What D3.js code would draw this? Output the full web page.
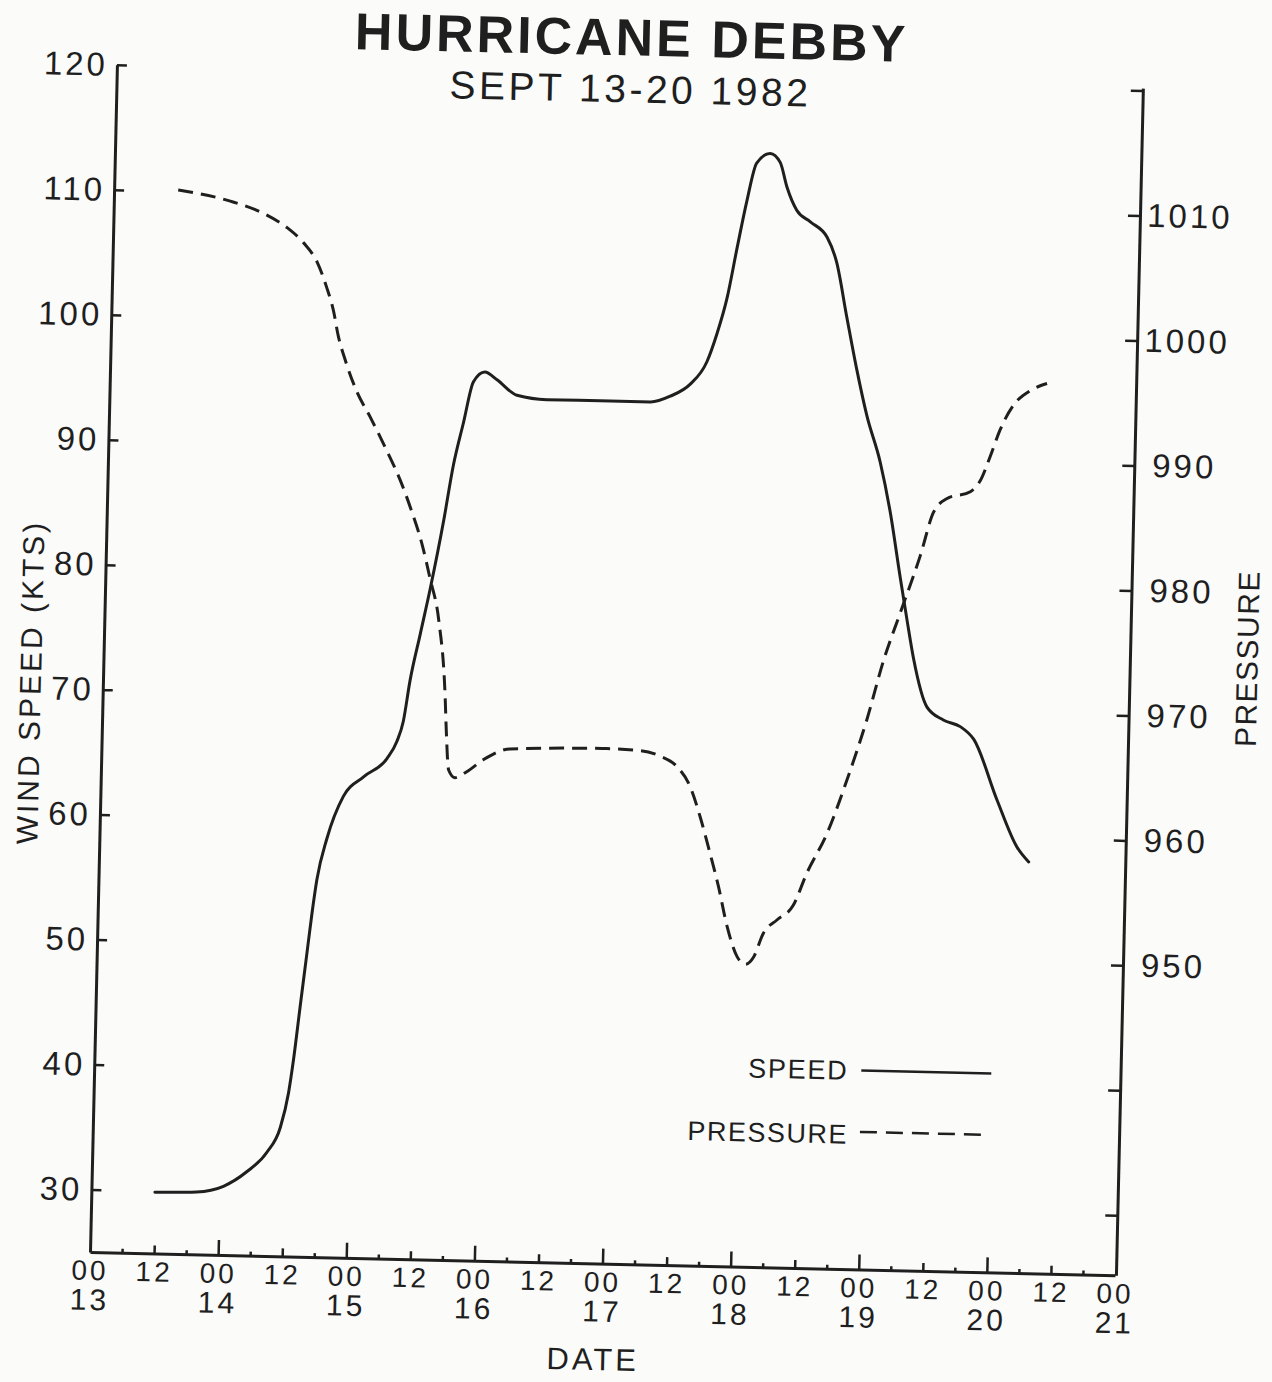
<!DOCTYPE html>
<html>
<head>
<meta charset="utf-8">
<script src="https://cdn.jsdelivr.net/npm/d3@7"></script>
<style>
  html, body { margin: 0; padding: 0; background: #fbfbfa; }
  svg { display: block; }
</style>
</head>
<body>
<div id="chart"></div>
<script>
// hours after 00Z Sept 13 and wind speed (kts)
const speedHours = [11.9, 19.7, 24.7, 29.0, 32.7, 35.1, 36.5, 37.3, 38.3, 39.3, 40.1, 40.9, 42.6, 45.5, 49.2, 53.5, 55.3, 56.4, 57.5, 59.2, 60.9, 63.1, 64.7, 66.4, 68.1, 70.2, 72.5, 76.3, 81.9, 93.8, 101.3, 105.0, 108.7, 111.7, 113.5, 115.2, 116.9, 118.5, 120.2, 122.7, 124.6, 126.0, 127.9, 130.5, 133.7, 135.6, 137.7, 139.8, 141.9, 144.6, 146.7, 148.8, 150.3, 151.7, 154.4, 157.5, 160.7, 163.3, 167.9, 171.8, 174.1];
const speedKts = [29.9, 30.0, 30.5, 31.7, 33.3, 35.3, 38.1, 40.8, 45.0, 49.1, 52.4, 55.2, 58.5, 61.9, 63.5, 65.0, 66.4, 68.0, 71.3, 75.0, 78.7, 84.1, 88.6, 92.0, 95.3, 96.1, 95.5, 94.3, 94.0, 94.0, 94.0, 94.5, 95.5, 97.3, 99.6, 102.4, 106.5, 110.2, 113.3, 114.1, 113.4, 111.4, 109.6, 108.7, 107.5, 105.5, 101.2, 97.0, 93.3, 89.6, 85.6, 80.5, 77.0, 73.9, 70.1, 69.1, 68.6, 67.6, 62.8, 59.1, 57.9];

// hours after 00Z Sept 13 and central pressure (mb)
const pressureHours = [12.0, 21.8, 28.0, 32.5, 35.7, 38.3, 40.2, 41.6, 42.6, 44.0, 46.3, 48.9, 52.2, 54.8, 57.1, 59.1, 60.8, 62.6, 64.1, 64.5, 65.1, 66.3, 68.5, 71.6, 76.5, 94.6, 100.9, 104.6, 107.8, 110.4, 112.4, 114.4, 116.1, 117.9, 119.9, 121.5, 123.0, 124.7, 127.2, 130.2, 132.6, 136.2, 139.7, 143.2, 146.1, 149.0, 152.5, 154.8, 157.2, 161.6, 163.4, 165.2, 166.9, 169.3, 172.4, 175.5];
const pressureMb = [1010.3, 1009.5, 1008.6, 1007.5, 1006.3, 1004.8, 1002.8, 1000.9, 998.9, 997.0, 994.5, 992.5, 989.8, 987.5, 985.0, 982.5, 979.7, 976.4, 970.5, 967.5, 964.4, 963.8, 964.3, 965.3, 966.2, 966.4, 966.3, 965.9, 965.1, 963.5, 961.1, 958.2, 955.6, 952.4, 950.0, 949.4, 950.0, 951.9, 953.0, 954.2, 956.8, 960.0, 964.3, 969.2, 974.0, 977.8, 982.4, 985.9, 987.0, 987.6, 988.5, 990.5, 992.6, 994.6, 995.8, 996.4];

const windTicks = [30, 40, 50, 60, 70, 80, 90, 100, 110, 120];
const pressureTicks = [930, 940, 950, 960, 970, 980, 990, 1000, 1010, 1020];
const pressureLabelled = [950, 960, 970, 980, 990, 1000, 1010];
const dayLabels = ["13", "14", "15", "16", "17", "18", "19", "20", "21"];

const ink = "#1f1f1f";
const font = "'Liberation Sans', Arial, Helvetica, sans-serif";

const width = 1272, height = 1382;
const plotW = 1025.2, plotH = 1187.5;

const svg = d3.select("#chart")
    .append("svg")
    .attr("width", width)
    .attr("height", height)
    .style("font-family", font);

svg.append("rect").attr("width", width).attr("height", height).attr("fill", "#fbfbfa");

// the original sheet sits slightly turned on the scanner
const g = svg.append("g")
    .attr("transform", `translate(90,1252) rotate(1.3) translate(0,${-plotH})`);

const x = d3.scaleLinear().domain([0, 192]).range([0, plotW]);
const yWind = d3.scaleLinear().domain([25, 120]).range([plotH, 0]);
const yPres = d3.scaleLinear().domain([925.2, 1020.2]).range([plotH, 0]);

function styleAxis(sel, size, spacing) {
    sel.attr("font-family", font).attr("font-size", size);
    sel.select(".domain").attr("stroke", ink).attr("stroke-width", 3);
    sel.selectAll(".tick line").attr("stroke", ink).attr("stroke-width", 2.5);
    sel.selectAll(".tick text").attr("fill", ink).style("letter-spacing", spacing + "px");
}

// left axis, ticks turned inward
const leftAxis = g.append("g")
    .call(d3.axisLeft(yWind).tickValues(windTicks).tickSizeInner(-10).tickSizeOuter(0).tickPadding(9));
styleAxis(leftAxis, 33, 3);

// right axis
const rightAxis = g.append("g")
    .attr("transform", `translate(${plotW + 1},0)`)
    .call(d3.axisRight(yPres).tickValues(pressureTicks).tickSizeInner(-12).tickSizeOuter(0).tickPadding(50)
        .tickFormat(d => pressureLabelled.includes(d) ? d : ""));
styleAxis(rightAxis, 33, 3);
rightAxis.selectAll(".tick text").attr("text-anchor", "middle");

// bottom axis: tall ticks at 00, medium at 12, tiny at 06/18
const bottomAxis = g.append("g")
    .attr("transform", `translate(0,${plotH})`)
    .call(d3.axisBottom(x).tickValues(d3.range(0, 193, 6)).tickSizeInner(-15).tickSizeOuter(0)
        .tickFormat(h => h % 24 === 0 ? "00" : h % 12 === 0 ? "12" : ""));
styleAxis(bottomAxis, 28, 3);
bottomAxis.selectAll(".tick line")
    .attr("y2", h => (h === 0 || h === 192) ? 0 : h % 24 === 0 ? -15 : h % 12 === 0 ? -8 : -4);
bottomAxis.selectAll(".tick text").attr("y", 28).attr("dy", null);
bottomAxis.selectAll(".tick")
    .filter(h => h % 24 === 0)
    .append("text")
    .attr("y", 58)
    .attr("fill", ink)
    .attr("font-size", 30)
    .style("letter-spacing", "3px")
    .attr("text-anchor", "middle")
    .text(h => dayLabels[h / 24]);

// series
const speedLine = d3.line()
    .x((d, i) => x(speedHours[i]))
    .y(d => yWind(d))
    .curve(d3.curveMonotoneX);

const pressureLine = d3.line()
    .x((d, i) => x(pressureHours[i]))
    .y(d => yPres(d))
    .curve(d3.curveMonotoneX);

g.append("path")
    .datum(speedKts)
    .attr("d", speedLine)
    .attr("fill", "none")
    .attr("stroke", ink)
    .attr("stroke-width", 3)
    .attr("stroke-linecap", "round");

g.append("path")
    .datum(pressureMb)
    .attr("d", pressureLine)
    .attr("fill", "none")
    .attr("stroke", ink)
    .attr("stroke-width", 3)
    .attr("stroke-dasharray", "15,8");

// axis titles
g.append("text")
    .attr("transform", "translate(-62,619) rotate(-90)")
    .attr("text-anchor", "middle")
    .attr("font-size", 30)
    .style("letter-spacing", "3px")
    .attr("fill", ink)
    .text("WIND SPEED (KTS)");

g.append("text")
    .attr("transform", "translate(1154,568) rotate(-90)")
    .attr("text-anchor", "middle")
    .attr("font-size", 30)
    .style("letter-spacing", "1.5px")
    .attr("fill", ink)
    .text("PRESSURE");

g.append("text")
    .attr("x", 505)
    .attr("y", 1294)
    .attr("text-anchor", "middle")
    .attr("font-size", 31)
    .style("letter-spacing", "3px")
    .attr("fill", ink)
    .text("DATE");

// title
g.append("text")
    .attr("x", 514)
    .attr("y", -21)
    .attr("text-anchor", "middle")
    .attr("font-size", 52)
    .attr("font-weight", "bold")
    .style("letter-spacing", "3px")
    .attr("fill", ink)
    .text("HURRICANE DEBBY");

g.append("text")
    .attr("x", 514)
    .attr("y", 26)
    .attr("text-anchor", "middle")
    .attr("font-size", 39)
    .style("letter-spacing", "3.5px")
    .attr("fill", ink)
    .text("SEPT 13-20 1982");

// legend
const legend = g.append("g");
legend.append("text")
    .attr("x", 754).attr("y", 998)
    .attr("text-anchor", "end")
    .attr("font-size", 27)
    .style("letter-spacing", "1.7px")
    .attr("fill", ink)
    .text("SPEED");
legend.append("line")
    .attr("x1", 767).attr("x2", 897).attr("y1", 988.5).attr("y2", 988.5)
    .attr("stroke", ink).attr("stroke-width", 2.5);
legend.append("text")
    .attr("x", 755).attr("y", 1062)
    .attr("text-anchor", "end")
    .attr("font-size", 27)
    .style("letter-spacing", "1.5px")
    .attr("fill", ink)
    .text("PRESSURE");
legend.append("line")
    .attr("x1", 767).attr("x2", 890).attr("y1", 1050).attr("y2", 1050)
    .attr("stroke", ink).attr("stroke-width", 2.5)
    .attr("stroke-dasharray", "17,9");
</script>
</body>
</html>
